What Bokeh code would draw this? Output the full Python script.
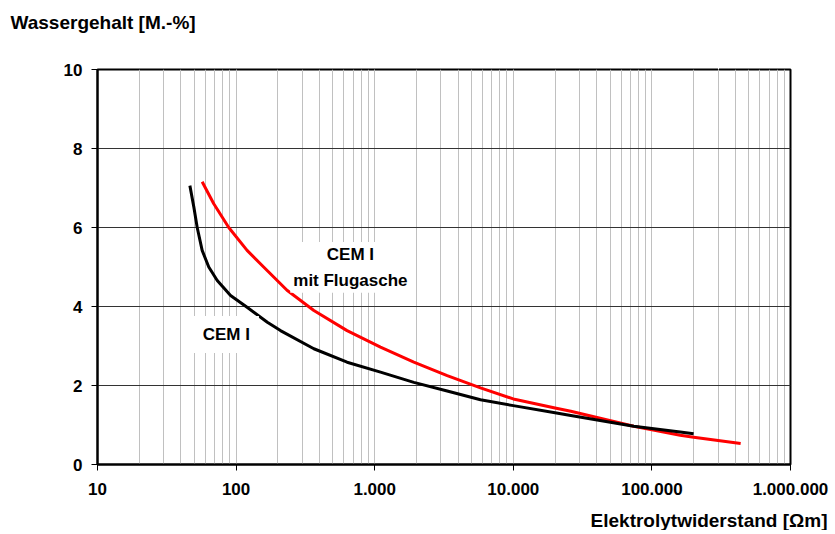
from bokeh.plotting import figure
from bokeh.models import FixedTicker, CustomJSTickFormatter, Label, Range1d, Title, LinearAxis
from bokeh.embed import file_html
from bokeh.resources import INLINE

# --- data ---
cem_x = [46.4, 49.6, 52.4, 56.9, 63.5, 73.1, 91.2, 120, 168, 209, 364, 632, 1101, 1915, 3335, 5800,
         10000, 20000, 26000, 74000, 100000, 160000, 200000]
cem_y = [7.06, 6.51, 6.0, 5.42, 5.0, 4.66, 4.28, 3.98, 3.60, 3.39, 2.93, 2.59, 2.34, 2.08, 1.86, 1.64,
         1.49, 1.31, 1.24, 0.97, 0.91, 0.82, 0.78]

fa_x = [56.9, 69, 88.5, 120, 158, 233, 364, 632, 1101, 1915, 3335, 5800,
        10000, 20000, 26000, 74000, 100000, 160000, 200000, 437000]
fa_y = [7.16, 6.6, 6.0, 5.42, 5.0, 4.41, 3.90, 3.39, 2.97, 2.59, 2.25, 1.94,
        1.66, 1.43, 1.35, 0.97, 0.88, 0.74, 0.69, 0.53]

x_ticks = [10, 100, 1000, 10000, 100000, 1000000]
y_ticks = [0, 2, 4, 6, 8, 10]
x_minor = [m * d for d in [10, 100, 1000, 10000, 100000] for m in range(1, 10)]
spacer_tick = [300000]

label_cem = "CEM I"
label_fa = "CEM I\nmit Flugasche"
y_title = "Wassergehalt [M.-%]"
x_title = "Elektrolytwiderstand [\u03a9m]"

FONT = "Liberation Sans"

p = figure(
    x_axis_type="log",
    x_range=Range1d(10, 1000000),
    y_range=Range1d(0, 10),
    frame_width=693, frame_height=395,
    min_border_left=97, min_border_right=40,
    min_border_top=69, min_border_bottom=0,
    output_backend="svg", toolbar_location=None,
    background_fill_color="white", border_fill_color="white",
)

p.outline_line_color = "black"
p.outline_line_width = 2

# axes
for ax in (p.xaxis[0], p.yaxis[0]):
    ax.axis_line_color = "black"
    ax.axis_line_width = 2
    ax.major_tick_line_color = "black"
    ax.major_tick_line_width = 1
    ax.major_tick_out = 6
    ax.major_tick_in = 0
    ax.minor_tick_line_color = None
    ax.major_label_text_font = FONT
    ax.major_label_text_font_style = "bold"
    ax.major_label_text_font_size = "17px"
    ax.major_label_text_color = "black"

p.xaxis.ticker = FixedTicker(ticks=x_ticks, minor_ticks=x_minor)
p.xaxis.formatter = CustomJSTickFormatter(code="""
    return Math.round(tick).toString().replace(/\\B(?=(\\d{3})+(?!\\d))/g, ".");
""")
p.xaxis.major_label_standoff = 12
p.yaxis.ticker = FixedTicker(ticks=y_ticks)
p.yaxis.major_label_standoff = 9

# grids
p.xgrid.ticker = FixedTicker(ticks=x_ticks, minor_ticks=x_minor)
p.xgrid.grid_line_color = "#c0c0c0"
p.xgrid.grid_line_width = 1
p.xgrid.minor_grid_line_color = "#c0c0c0"
p.xgrid.minor_grid_line_width = 1
p.ygrid.ticker = FixedTicker(ticks=y_ticks)
p.ygrid.grid_line_color = "#333333"
p.ygrid.grid_line_width = 1

# curves
p.line(fa_x, fa_y, line_color="#ff0000", line_width=3, line_join="round")
p.line(cem_x, cem_y, line_color="black", line_width=3, line_join="round")

# curve labels with white boxes
p.add_layout(Label(x=85, y=3.29, text=label_cem, text_align="center", text_baseline="middle",
                   text_font=FONT, text_font_style="bold", text_font_size="17px", text_color="black",
                   background_fill_color="white", padding=9))
p.add_layout(Label(x=668, y=4.99, text=label_fa, text_align="center", text_baseline="middle",
                   text_font=FONT, text_font_style="bold", text_font_size="17px", text_color="black",
                   text_line_height=1.35,
                   background_fill_color="white", padding=3))


def spacer(size):
    # an invisible axis used only to reserve space for the axis titles
    return LinearAxis(ticker=FixedTicker(ticks=spacer_tick, minor_ticks=[]),
                      axis_line_color=None, major_tick_line_color="white",
                      minor_tick_line_color=None, major_tick_out=size, major_tick_in=0,
                      major_label_text_color=None, major_label_standoff=0)


# axis titles (spacers position them above/below the frame)
p.add_layout(spacer(37), "above")
p.add_layout(Title(text=y_title, align="left", offset=-87, standoff=0,
                   text_font=FONT, text_font_style="bold", text_font_size="19px",
                   text_color="black"), "above")
p.add_layout(spacer(10), "below")
p.add_layout(Title(text=x_title, align="right", offset=-37, standoff=0,
                   text_font=FONT, text_font_style="bold", text_font_size="19px",
                   text_color="black"), "below")

open("out.html", "w").write(file_html(p, INLINE))
